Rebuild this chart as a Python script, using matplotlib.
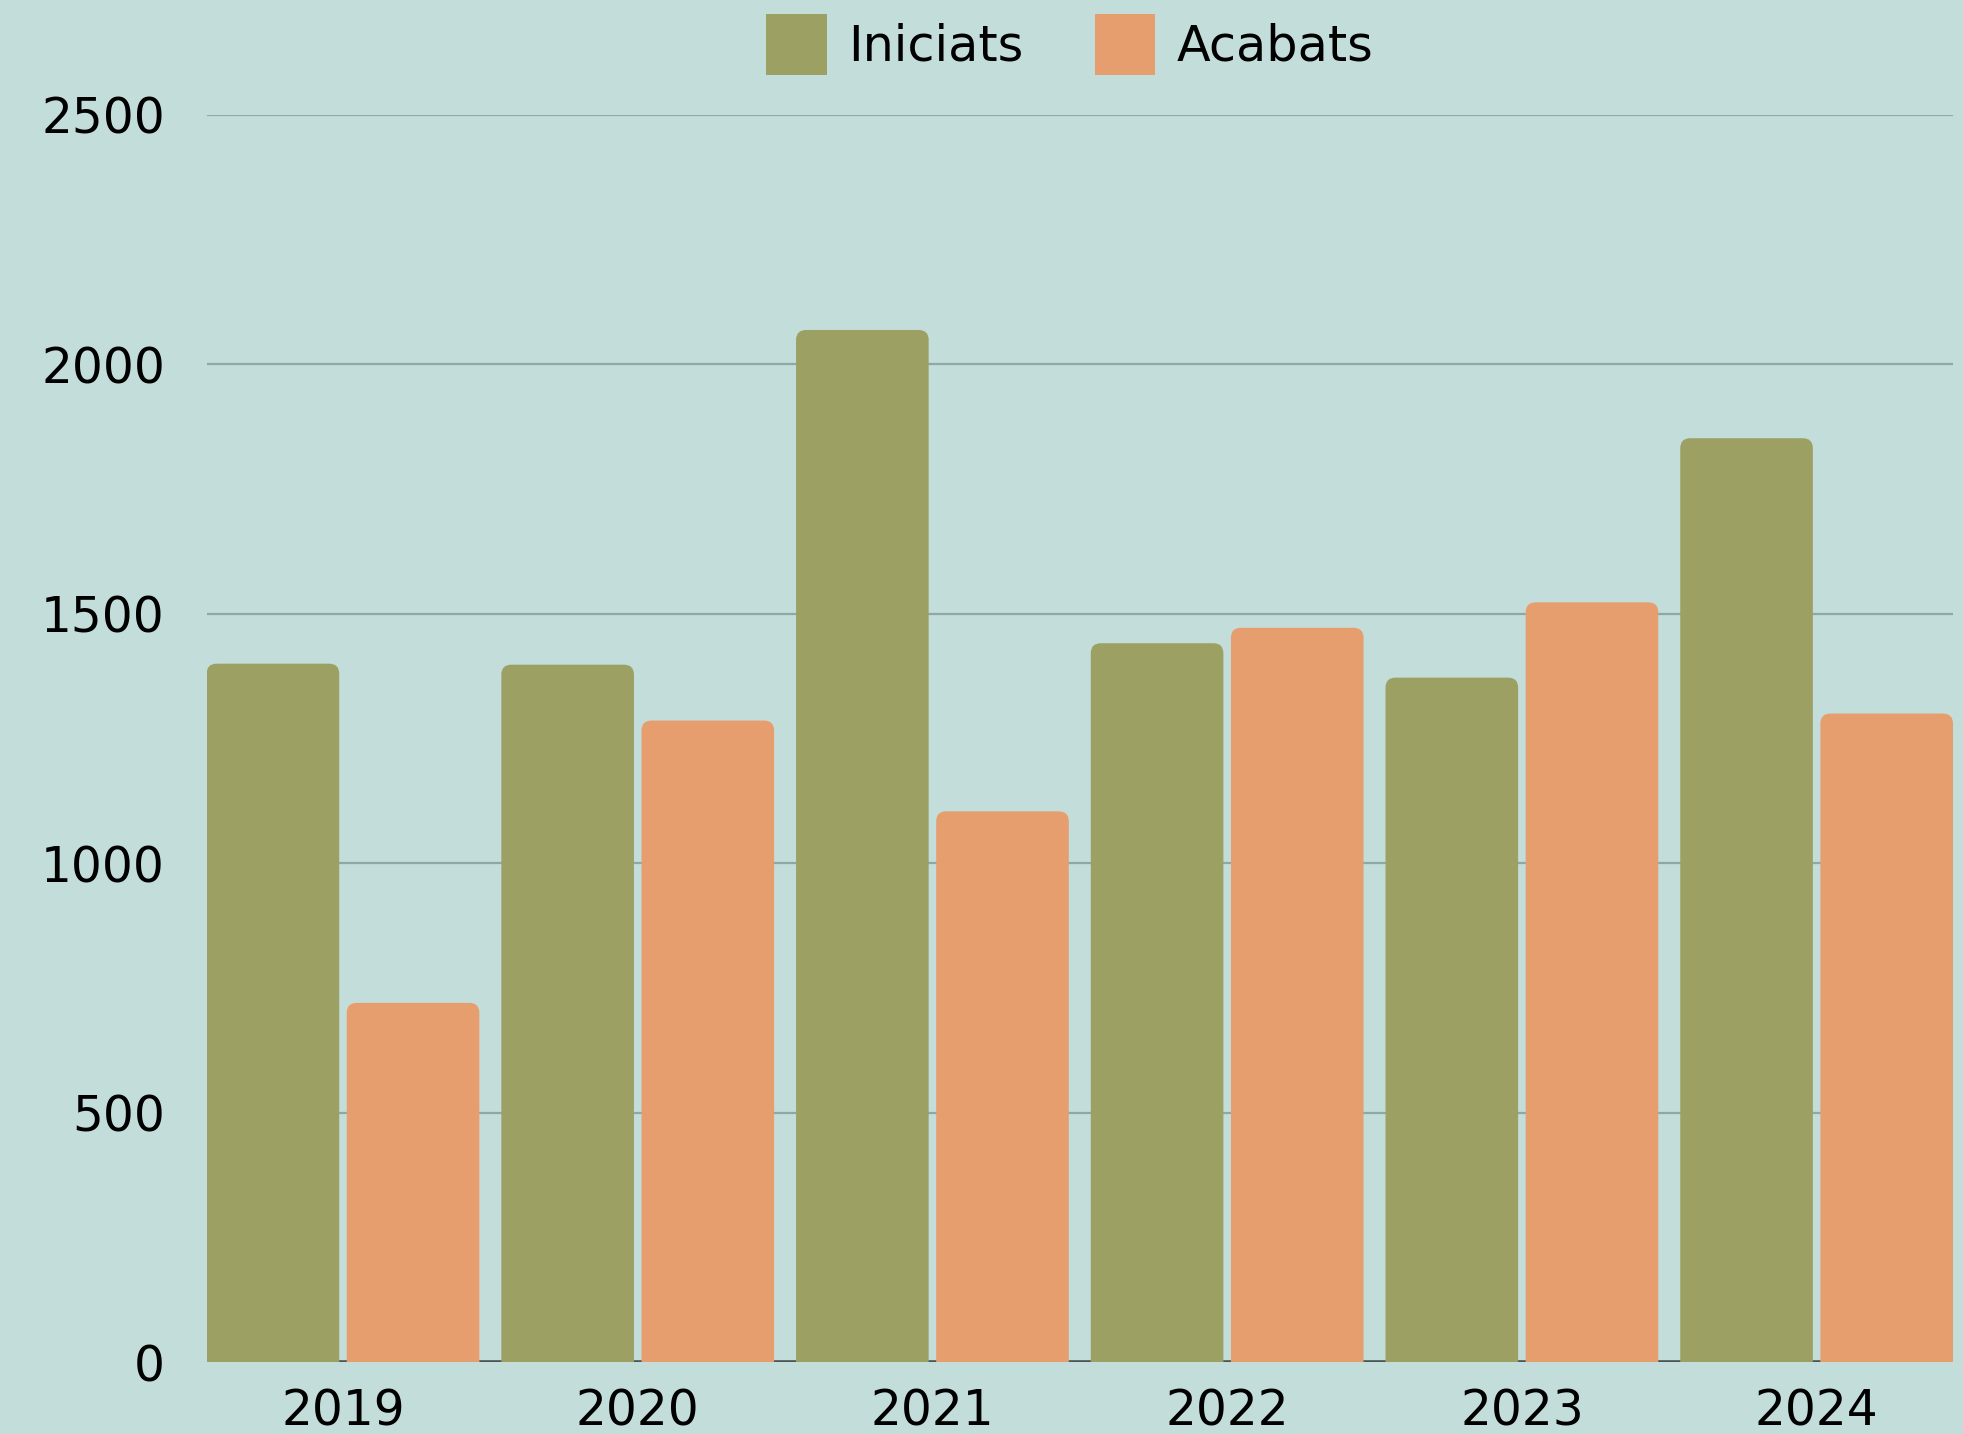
import matplotlib
matplotlib.use("Agg")
import matplotlib.pyplot as plt
from matplotlib.patches import FancyBboxPatch, Patch

years = ["2019", "2020", "2021", "2022", "2023", "2024"]
iniciats = [1400, 1398, 2069, 1441, 1372, 1852]
acabats = [720, 1286, 1104, 1472, 1523, 1300]
series_names = ["Iniciats", "Acabats"]
yticks = [0, 500, 1000, 1500, 2000, 2500]

BG = "#C3DEDA"
C_INI = "#9CA163"
C_ACA = "#E79E6E"
GRID = "#8FA8A4"

plt.rcParams['font.family'] = ['DejaVu Sans']

W, H = 1963, 1434
fig = plt.figure(figsize=(W / 100, H / 100), dpi=100, facecolor=BG)
ax = fig.add_axes([206.6 / W, 1 - 1362 / H, (1953 - 206.6) / W, (1362 - 115) / H])
ax.set_facecolor(BG)

bw = 0.45
gap = 0.0255
x = list(range(len(years)))
xl = -(gap / 2 + bw)
xr = len(years) - 1 + gap / 2 + bw
ax.set_xlim(xl, xr)
ax.set_ylim(0, 2500)

bars_i = ax.bar([v - gap / 2 - bw for v in x], iniciats, width=bw, align='edge',
                color=C_INI, zorder=3)
bars_a = ax.bar([v + gap / 2 for v in x], acabats, width=bw, align='edge',
                color=C_ACA, zorder=3)

# rounded tops
ax_w_px = 1953 - 206.6
ax_h_px = 1362 - 115
xpp = (xr - xl) / ax_w_px
ypp = 2500 / ax_h_px
aspect = ypp / xpp
rad_px = 10
for bars, col in ((bars_i, C_INI), (bars_a, C_ACA)):
    for r in bars:
        bx, bwid, bh = r.get_x(), r.get_width(), r.get_height()
        extra = 40
        p = FancyBboxPatch((bx, -extra), bwid, bh + extra,
                           boxstyle=f"round,pad=0,rounding_size={rad_px * xpp}",
                           mutation_aspect=aspect, facecolor=col,
                           edgecolor='none', zorder=3, clip_on=True)
        ax.add_patch(p)
        r.set_visible(False)

ax.set_yticks(yticks)
ax.set_yticklabels([str(t) for t in yticks])
ax.yaxis.grid(True, color=GRID, linewidth=1.6, zorder=0)
ax.axhline(0, color="#4A5654", linewidth=2.6, zorder=2)
ax.set_xticks(x)
ax.set_xticklabels(years)
for s in ax.spines.values():
    s.set_visible(False)
ax.tick_params(axis='both', length=0, labelsize=35, colors='black')
ax.tick_params(axis='y', pad=30)
ax.tick_params(axis='x', pad=18)

handles = [Patch(facecolor=C_INI, edgecolor='none'), Patch(facecolor=C_ACA, edgecolor='none')]
fig.legend(handles, series_names, loc='center', bbox_to_anchor=(0.545, 0.969),
           ncol=2, frameon=False, fontsize=35.5, handlelength=1.23, handleheight=1.52,
           handletextpad=0.43, columnspacing=1.45, borderpad=0)

fig.savefig("out.png", dpi=100, facecolor=BG)
